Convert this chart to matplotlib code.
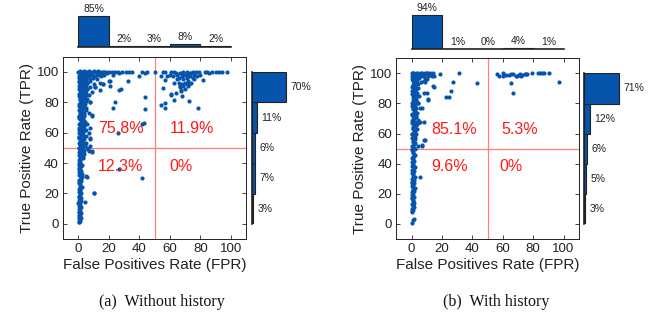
import matplotlib
matplotlib.use("Agg")
import matplotlib.pyplot as plt
import numpy as np

plt.rcParams['font.family'] = ['Liberation Sans', 'DejaVu Sans']

# ---------------- data ----------------
fpr_bins = ["0-20", "20-40", "40-60", "60-80", "80-100"]
tpr_bins = ["0-20", "20-40", "40-60", "60-80", "80-100"]

a_fpr_hist = [85, 2, 3, 8, 2]
a_tpr_hist = [3, 7, 6, 11, 70]
b_fpr_hist = [94, 1, 0, 4, 1]
b_tpr_hist = [3, 5, 6, 12, 71]

a_quadrants = ["75.8%", "11.9%", "12.3%", "0%"]
b_quadrants = ["85.1%", "5.3%", "9.6%", "0%"]

captions = ["(a)  Without history", "(b)  With history"]

# panel (a) points (FPR, TPR)
a_column = [(0.5,1),(1.2,2),(0.3,3),(1.8,4),(0.9,5),(0.2,6),(1.5,7),(0.7,8),(1.1,9),(0.4,10),
            (1.9,11),(0.6,12),(1.3,13),(0.1,14),(1.6,15),(0.8,16),(2.1,17),(0.3,18),(1.0,19),(1.7,20),
            (0.5,21),(1.4,22),(0.2,23),(2.2,24),(0.9,25),(1.1,26),(0.6,27),(1.8,28),(0.3,29),(1.5,30),
            (2.4,31),(0.7,32),(1.2,33),(0.4,34),(1.9,35),(1.0,36),(0.2,37),(1.6,38),(2.3,39),(0.8,40),
            (1.3,41),(0.5,42),(2.0,43),(1.1,44),(0.3,45),(1.7,46),(2.5,47),(0.9,48),(1.4,49),(0.6,50),
            (2.2,51),(1.0,52),(0.4,53),(1.8,54),(2.6,55),(1.2,56),(0.7,57),(2.0,58),(1.5,59),(0.3,60),
            (2.4,61),(1.1,62),(0.8,63),(1.9,64),(2.8,65),(0.5,66),(1.6,67),(2.2,68),(1.0,69),(2.6,70),
            (0.4,71),(1.3,72),(2.9,73),(1.8,74),(0.7,75),(2.3,76),(1.2,77),(3.0,78),(0.6,79),(1.7,80),
            (2.5,81),(1.0,82),(3.2,83),(0.3,84),(2.1,85),(1.4,86),(2.8,87),(0.9,88),(1.9,89),(3.3,90),
            (0.5,91),(2.4,92),(1.2,93),(3.0,94),(1.7,95),(0.8,96),(2.6,97),(1.5,98),(3.4,99),(2.0,100),
            (0.2,1.5),(0.8,4.5),(0.4,7.5),(1.0,11.5),(0.3,17.5),(0.9,22.5),(0.5,27.5),(1.3,32.5),(0.2,38.5),
            (0.9,43.5),(0.4,47.5),(1.2,52.5),(0.6,56.5),(0.2,61.5),(1.0,65.5),(0.5,69.5),(1.4,73.5),
            (0.3,77.5),(0.9,81.5),(0.4,85.5),(1.1,89.5),(0.6,93.5),(0.2,97.5)]
a_dense = [(2.0,45.5),(3.1,49.5),(2.7,53.5),(3.4,57.5),(2.9,61.5),(3.6,64.5),(3.2,68.5),(3.9,71.5),
           (2.6,74.5),(3.7,77.5),(4.2,80.5),(2.4,82.5),(3.9,84.5),(4.5,86.5),(2.7,88.5),(4.1,90.5),
           (4.7,92.5),(2.3,94.5),(3.8,95.5),(5.0,96.5),(2.9,98.5),(4.4,99.2),
           (1.6,46.5),(1.9,50.5),(1.5,54.5),(2.3,59.5),(1.7,63.5),(2.1,66.5),(1.4,70.5),(2.0,72.5),
           (1.6,76.5),(2.4,79.5),(1.3,83.5),(2.0,87.5),(1.5,91.5),(2.2,96.0),(1.0,99.0)]
a_mid = [(1.5,30),(2.5,33),(0.8,36),(2.0,39),(1.2,42),(3.0,44),(2.2,46),(3.5,48),(0.7,50),(2.8,51),
         (1.9,52),(3.6,53),(1.1,54),(2.4,55),(3.9,56),(0.6,57),(2.9,58),(1.6,59),(3.3,60),(2.0,61),
         (4.2,62),(0.9,63),(2.7,64),(3.8,65),(1.4,66),(4.5,67),(2.3,68),(3.1,69),(0.8,70),(4.0,71),
         (2.6,72),(3.5,73),(1.2,74),(4.8,75),(2.9,76),(3.7,77),(1.8,78),(4.4,79),(3.2,80),(5.0,81),
         (2.1,82),(4.1,83),(3.0,84),(5.3,85),(1.6,86),(4.6,87),(3.4,88),(5.5,89),(2.5,90),(4.9,91),
         (3.8,92),(5.8,93),(2.8,94),(5.2,95),(4.3,96),(6.0,97),(3.5,98)]
a_upper = [(5,96),(7,97),(9,98),(11,97),(13,98),(15,97),(6,93),(8,94),(10,92),(12,95),(14,93),
           (4,90),(6,89),(8,90),(11,90),(16,92),(20,94),(21,91),(5,86),(7,85),(9,87),(3,84),(6,82),
           (8,80),(4,79),(5,76),(7,73),(3,72),(9,71),(4,68),(6,66),(3,64),(5,62),(7,60),(4,57),
           (8,56),(5,53),(6,50),(7,48),(9,47),(4,46),(3,43),
           (1,98),(2,97),(3,98.5),(4,97.5),(5,98),(6,99),(1.5,96),(2.5,95),(3.5,96.5),(0.5,94),
           (1.2,92),(2.8,93),(3.8,91),(0.8,89),(2.0,88),(4.8,94.5),(7.5,95.5),(9.5,96),(12,99),
           (14,98.5),(17,98)]
a_top = [(0,100),(1,100.5),(2,99.5),(3,100),(4,100.3),(5,99.6),(6,100),(7,100.4),(8,99.5),(9,100),
         (10,100.3),(11,99.6),(12,100),(13,100.4),(14,99.5),(15,100),(16,100.2),(17,99.7),(18,100),
         (19,99.4),(20,100.2),(22,99.6),(24,100),(27,99.5),(29,100),(31,100.2),(33,99.8),(35,100),
         (42,100),(44,99.5),(45,100)]
a_scatter = [(26,100),(23,98),(16,92),(20.7,94),(32.7,94),(27,88),(28,89),(40,97),(43.6,83.5),
             (44,75.5),(24,80),(23,76.5),(11,90),(7.6,80),(8.7,71.5),(43,66.5),(42,65.6),(26,60),
             (27,36),(42,30),(10,20),(5.4,31.7),(4.6,14.4),(14,88),(7.6,56.4),(4.4,52),(8.7,47.6),
             (5.5,31),(10.3,20.6),(6.5,49),(7.5,51),(5,58),(8,63)]
a_right = [(50,100),(55.9,100),(57,99.6),(61,100),(63,99.8),(68.4,100),(71,100),(73,99.5),(75,100),
           (79.5,100),(82.8,99.6),(84.7,100),(88,100),(90.5,99.7),(94.5,100),(97.8,99.6),
           (56.7,94.5),(54.5,97),(63,93),(55.5,89.5),(61,84.7),(64.3,86),(67.6,88),(54.5,78.5),
           (56.7,79.6),(56.7,76.3),(62.5,81.4),(72.5,80.7),(78.4,76.3),(81.5,94.7),
           (65,98),(66,96),(67,99),(68,97),(69,95),(70,98),(71,96),(72,94),(73,97),(74,99),(75,96),
           (66,93),(68,92),(70,93),(72,91),(67,90),(69,91),(71,92),(74,93),(76,95),(65,95),(69,99),
           (72,98),(76,98),(78,97),(80,98),(62,97),(64,99),(60,98),(58,97),(77,100),(86,99),(92,100),
           (60.6,85.3),(67.5,87.5),(66.7,90.6),(72.5,92),(70,89),(68,84)]

# panel (b) points (FPR, TPR)
b_column = [(0.5,8),(1.2,9),(0.3,10),(1.8,11),(0.9,12),(0.2,13),(1.5,14),(0.7,15),(1.1,16),(0.4,17),
            (1.9,18),(0.6,19),(1.3,20),(0.1,21),(1.6,22),(0.8,23),(2.1,24),(0.3,25),(1.0,26),(1.7,27),
            (0.5,28),(1.4,29),(0.2,30),(2.2,31),(0.9,32),(1.1,33),(0.6,34),(1.8,35),(0.3,36),(1.5,37),
            (2.0,38),(0.7,39),(1.2,40),(0.4,41),(1.9,42),(1.0,43),(0.2,44),(1.6,45),(2.3,46),(0.8,47),
            (1.3,48),(0.5,49),(2.0,50),(1.1,51),(0.3,52),(1.7,53),(2.5,54),(0.9,55),(1.4,56),(0.6,57),
            (2.2,58),(1.0,59),(0.4,60),(1.8,61),(2.6,62),(1.2,63),(0.7,64),(2.0,65),(1.5,66),(0.3,67),
            (2.4,68),(1.1,69),(0.8,70),(1.9,71),(2.8,72),(0.5,73),(1.6,74),(2.2,75),(1.0,76),(2.6,77),
            (0.4,78),(1.3,79),(2.9,80),(1.8,81),(0.7,82),(2.3,83),(1.2,84),(3.0,85),(0.6,86),(1.7,87),
            (2.5,88),(1.0,89),(3.2,90),(0.3,91),(2.1,92),(1.4,93),(2.8,94),(0.9,95),(1.9,96),(3.3,97),
            (0.5,98),(2.4,99),(1.2,100),
            (0.2,8.5),(0.8,12.5),(0.4,17.5),(1.0,22.5),(0.3,27.5),(0.9,33.5),(0.5,38.5),(1.3,44.5),
            (0.2,49.5),(0.9,54.5),(0.4,59.5),(1.2,64.5),(0.6,68.5),(0.2,72.5),(1.0,76.5),(0.5,80.5),
            (1.4,84.5),(0.3,88.5),(0.9,92.5),(0.4,96.5),
            (0.5,0.6),(1.0,2.6),(1.8,3.2)]
b_dense = [(1.6,50.5),(2.4,56.5),(1.8,60.5),(2.7,65.5),(1.5,70.5),(2.6,74.5),(2.0,78.5),(3.0,82.5),
           (1.7,86.5),(2.9,89.5),(2.2,91.5),(3.4,93.5),(1.8,95.5),(3.0,97.5),(2.4,99.3)]
b_upper = [(3,96),(5,97),(7,98),(9,97),(11,98),(13,99),(4,93),(6,94),(8,95),(2.5,91),(4.5,90),
           (3.5,87),(5,85),(2.8,83),(4,80),(3,77),(3.5,74),(2.8,71),(4,69),(3,66),(3.5,63),(2.8,60),
           (1,98),(2,97),(3,98.5),(4,97.5),(5,99),(6,99.5),(1.5,95),(2.5,94),(3.5,95.5),(1.2,92),
           (2.2,89),(1.8,86),(2.6,84),(8,99),(10,100),(12,99.5),(14,100),(15,98.5)]
b_top = [(0,100),(1,100.4),(2,99.6),(3,100),(4,100.3),(5,99.6),(6,100),(7,100.4),(8,99.6),(9,100),
         (10,100.3),(11,99.7),(12,100)]
b_scatter = [(18.6,99.6),(31.4,100),(13.8,98),(14.5,91),(8.6,94),(9.9,87),(11,83),(4.6,80.5),
             (6.8,77),(5.5,77),(27.4,94),(26.3,88),(22.6,84),(24.8,84),(43.4,93.4),(8.3,68),
             (4.6,67),(8.3,56),(9,56),(4.4,51.5),(6.6,52),(5.5,31.4),(9.9,96),(14.3,91.4),(7.9,87),
             (10.7,82.5),(5.6,68),(7.2,52.4)]
b_right = [(56,99.6),(57.7,98),(60.3,98),(60,100),(65.4,99.6),(66.5,99.6),(68.6,98),(70.4,99),
           (71.5,99.6),(73,99),(74.5,99.6),(76.3,99.6),(79.6,100),(82.9,100),(84.4,100),(86,100),
           (87.3,100),(90.6,100),(97,94.5),(65.4,93.4),(66.5,86.7),(64,99),(62,99),(69.5,98.5),
           (72,98.5),(75.5,99.8)]

# ---------------- drawing ----------------
W, H = 667, 318
fig = plt.figure(figsize=(W / 100, H / 100), dpi=100)

BLUE = '#0654AC'
EDGE = '#222222'


def ax_px(left, top, right, bottom):
    return fig.add_axes([left / W, 1 - bottom / H, (right - left) / W, (bottom - top) / H])


panels = [
    dict(sc=(63, 56.7, 246, 239), top=(78.3, 231, 46.7, 0.365), right=(252, 0.486, 71.9, 224),
         pts=[a_column, a_dense, a_mid, a_upper, a_top, a_scatter, a_right],
         fh=a_fpr_hist, th=a_tpr_hist, q=a_quadrants, cap=captions[0], capx=162, qx=(13, 60, 13, 60)),
    dict(sc=(396.3, 58.3, 578.7, 239), top=(412, 564, 49.3, 0.368), right=(584, 0.493, 73.4, 224),
         pts=[b_column, b_dense, b_upper, b_top, b_scatter, b_right],
         fh=b_fpr_hist, th=b_tpr_hist, q=b_quadrants, cap=captions[1], capx=496, qx=(13, 59, 13, 58)),
]

centers = [10, 30, 50, 70, 90]

for p in panels:
    l, t, r, b = p['sc']
    ax = ax_px(l, t, r, b)
    allpts = [pt for grp in p['pts'] for pt in grp]
    xs = [pt[0] for pt in allpts]
    ys = [pt[1] for pt in allpts]
    ax.scatter(xs, ys, s=9, color=BLUE, linewidths=0, zorder=3)
    ax.axvline(50, color='#FF7F7F', lw=0.9, zorder=2)
    ax.axhline(50, color='#FF7F7F', lw=0.9, zorder=2)
    qx = p['qx']
    qpos = [(qx[0], 62.5), (qx[1], 62.5), (qx[2], 38), (qx[3], 38)]
    for (x, y), txt in zip(qpos, p['q']):
        ax.text(x, y, txt, color='#FF1A1A', fontsize=11.5, ha='left', va='center', zorder=4)
    ax.set_xlim(-10, 110)
    ax.set_ylim(-10, 110)
    ax.set_xticks([0, 20, 40, 60, 80, 100])
    ax.set_yticks([0, 20, 40, 60, 80, 100])
    ax.tick_params(direction='in', length=3, width=0.6, top=True, right=True,
                   labelsize=9.5, colors='#222222', pad=3)
    for s in ax.spines.values():
        s.set_linewidth(0.7)
        s.set_color('#222222')
    ax.set_xlabel('False Positives Rate (FPR)', fontsize=11, color='#222222', labelpad=2)
    ax.set_ylabel('True Positive Rate (TPR)', fontsize=11, color='#222222', labelpad=2)

    # top histogram
    x0, x1, base, sc = p['top']
    axt = ax_px(x0, base - 100 * sc, x1, base)
    axt.bar(centers, p['fh'], width=20, color=BLUE, edgecolor=EDGE, linewidth=0.8)
    for c, v in zip(centers, p['fh']):
        axt.annotate(f'{v}%', (c, v), xytext=(0, 1.5), textcoords='offset points',
                     ha='center', va='bottom', fontsize=7.5, color='#222222', annotation_clip=False)
    axt.set_xlim(0, 100)
    axt.set_ylim(0, 100)
    axt.axis('off')
    axt.plot([0, 100], [0, 0], color=EDGE, lw=1.2, clip_on=False)

    # right histogram
    rl, rsc, rtop, rbot = p['right']
    axr = ax_px(rl, rtop, rl + 100 * rsc, rbot)
    axr.barh(centers, p['th'], height=20, color=BLUE, edgecolor=EDGE, linewidth=0.8)
    for c, v in zip(centers, p['th']):
        axr.annotate(f'{v}%', (v, c), xytext=(3, 0), textcoords='offset points',
                     ha='left', va='center', fontsize=7.5, color='#222222', annotation_clip=False)
    axr.set_xlim(0, 100)
    axr.set_ylim(0, 100)
    axr.axis('off')
    axr.plot([0, 0], [0, 100], color=EDGE, lw=1.2, clip_on=False)

    fig.text(p['capx'] / W, 1 - 301.5 / H, p['cap'], ha='center', va='center',
             fontsize=11.5, family='Liberation Serif', color='#111111')

fig.savefig('out.png', dpi=100)
